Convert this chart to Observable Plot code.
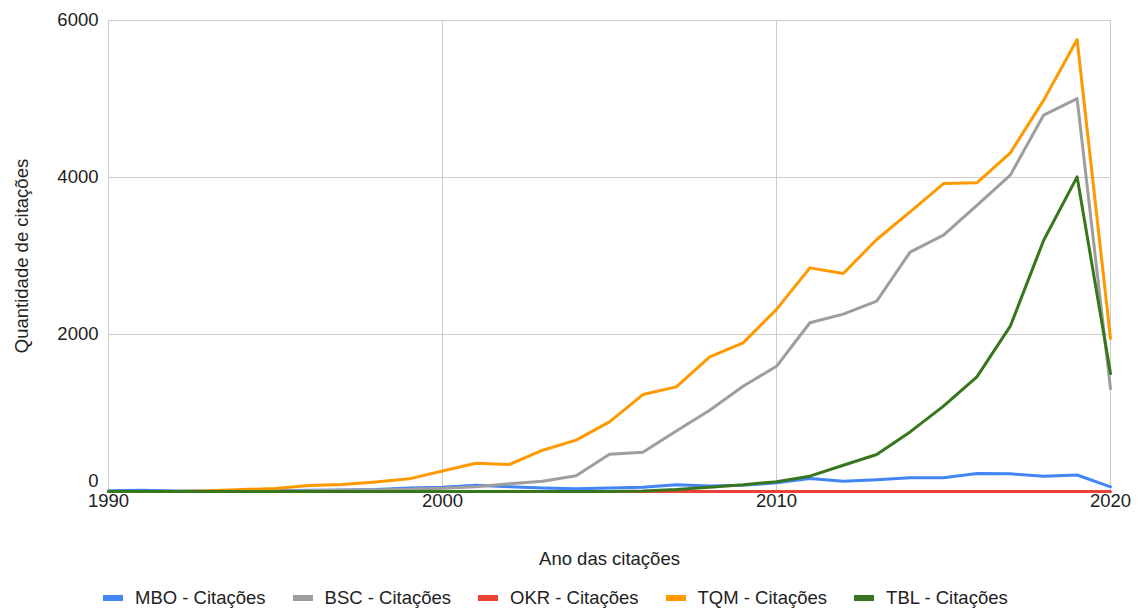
<!DOCTYPE html>
<html>
<head>
<meta charset="utf-8">
<script src="https://cdn.jsdelivr.net/npm/d3@7"></script>
<script src="https://cdn.jsdelivr.net/npm/@observablehq/plot@0.6"></script>
<style>
  html, body { margin: 0; padding: 0; background: #fff; }
  body { width: 1138px; height: 611px; overflow: hidden; font-family: "Liberation Sans", Arial, sans-serif; }
  #legend { display: flex; align-items: center; padding-left: 103px; padding-top: 10px; height: 26px; font-size: 18.5px; color: #222; line-height: 22px; }
  #legend .item { display: flex; align-items: center; margin-right: 27px; white-space: nowrap; }
  #legend .sw { width: 20px; height: 6px; margin-right: 12px; }
</style>
</head>
<body>
<div id="chart"></div>
<div id="legend"></div>
<script>
// Citation counts per year for five management frameworks
const years = [1990, 1991, 1992, 1993, 1994, 1995, 1996, 1997, 1998, 1999,
               2000, 2001, 2002, 2003, 2004, 2005, 2006, 2007, 2008, 2009,
               2010, 2011, 2012, 2013, 2014, 2015, 2016, 2017, 2018, 2019, 2020];

const seriesNames = ["MBO - Citações", "BSC - Citações", "OKR - Citações", "TQM - Citações", "TBL - Citações"];
const seriesColors = ["#4285f4", "#9e9e9e", "#ea4335", "#ff9900", "#38761d"];

const mbo = [10, 15, 5, 5, 5, 10, 15, 20, 25, 45,
             55, 80, 60, 45, 35, 45, 55, 85, 70, 80,
             110, 165, 130, 150, 175, 175, 230, 225, 195, 210, 60];
const bsc = [0, 0, 0, 0, 0, 5, 10, 15, 20, 30,
             40, 60, 100, 130, 200, 475, 500, 770, 1035, 1340,
             1595, 2150, 2260, 2425, 3050, 3265, 3645, 4030, 4795, 5005, 1310];
const okr = [0, 0, 0, 0, 0, 0, 0, 0, 0, 0,
             0, 0, 0, 0, 0, 0, 0, 0, 0, 0,
             0, 0, 0, 0, 0, 0, 0, 0, 0, 0, 0];
const tqm = [0, 0, 0, 8, 25, 38, 76, 89, 122, 161,
             262, 360, 344, 526, 654, 887, 1235, 1333, 1715, 1893,
             2320, 2849, 2777, 3210, 3562, 3923, 3932, 4314, 4985, 5758, 1949];
const tbl = [0, 0, 0, 0, 0, 0, 0, 0, 0, 0,
             0, 0, 0, 0, 0, 0, 5, 25, 55, 85,
             125, 195, 335, 471, 759, 1087, 1460, 2106, 3201, 4008, 1503];

const xTicks = [1990, 2000, 2010, 2020];
const yTicks = [0, 2000, 4000, 6000];
const xTitle = "Ano das citações";
const yTitle = "Quantidade de citações";

const seriesValues = [mbo, bsc, okr, tqm, tbl];
const rows = seriesNames.flatMap((name, i) =>
  years.map((year, j) => ({series: name, year, value: seriesValues[i][j]}))
);

const font = "Liberation Sans, Arial, sans-serif";

const chart = Plot.plot({
  width: 1138,
  height: 575,
  marginTop: 20,
  marginLeft: 108,
  marginRight: 28,
  marginBottom: 84,
  style: {fontFamily: font, fontSize: "18.5px", color: "#222", background: "#fff"},
  x: {domain: [1990, 2020]},
  y: {domain: [0, 6000]},
  color: {domain: seriesNames, range: seriesColors},
  marks: [
    Plot.gridX(xTicks, {stroke: "#cccccc", strokeOpacity: 1, strokeWidth: 1}),
    Plot.gridY(yTicks, {stroke: "#cccccc", strokeOpacity: 1, strokeWidth: 1}),
    Plot.axisX(xTicks, {tickSize: 0, tickPadding: 2, tickFormat: d => String(d), label: null, fill: "#222"}),
    Plot.axisY(yTicks.filter(d => d !== 0), {tickSize: 0, tickPadding: 10, tickFormat: d => String(d), label: null, fill: "#222"}),
    Plot.axisY([0], {tickSize: 0, tickPadding: 10, tickFormat: d => String(d), label: null, dy: -10, fill: "#222"}),
    Plot.text([xTitle], {frameAnchor: "bottom", dy: 73, textAnchor: "middle", fill: "#222"}),
    Plot.text([yTitle], {frameAnchor: "left", rotate: -90, dx: -86, textAnchor: "middle", lineAnchor: "middle", fill: "#222"}),
    Plot.line(rows, {
      x: "year", y: "value", z: "series", stroke: "series",
      strokeWidth: 3, strokeLinejoin: "round", strokeLinecap: "round"
    })
  ]
});
document.getElementById("chart").appendChild(chart);

// Legend row below the chart
const legend = d3.select("#legend");
seriesNames.forEach((name, i) => {
  const item = legend.append("div").attr("class", "item");
  item.append("div").attr("class", "sw").style("background", seriesColors[i]);
  item.append("span").text(name);
});
</script>
</body>
</html>
